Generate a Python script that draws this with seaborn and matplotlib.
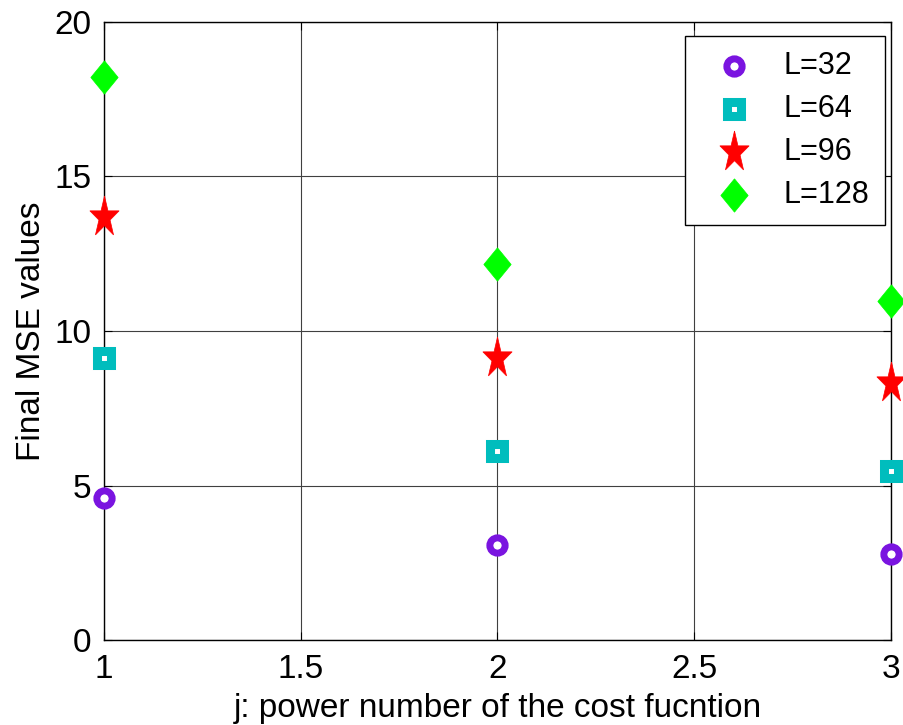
import numpy as np
import pandas as pd
import matplotlib
matplotlib.use("Agg")
import matplotlib.pyplot as plt
import seaborn as sns

# ---- data ----
j_values = [1, 2, 3]
mse_L32 = [4.6, 3.07, 2.78]
mse_L64 = [9.13, 6.12, 5.47]
mse_L96 = [13.7, 9.13, 8.32]
mse_L128 = [18.2, 12.17, 10.97]
series_labels = ["L=32", "L=64", "L=96", "L=128"]
x_ticks = [1, 1.5, 2, 2.5, 3]
x_tick_labels = ["1", "1.5", "2", "2.5", "3"]
y_ticks = [0, 5, 10, 15, 20]

sns.set_theme(style="white")
plt.rcParams['font.family'] = ['Liberation Sans', 'DejaVu Sans']
plt.rcParams['text.color'] = 'black'
plt.rcParams['axes.labelcolor'] = 'black'
plt.rcParams['xtick.color'] = 'black'
plt.rcParams['ytick.color'] = 'black'

# marker shapes (MATLAB-like elongated pentagram and diamond)
ang = np.pi / 2 + np.arange(10) * np.pi / 5
rad = np.where(np.arange(10) % 2 == 0, 1.0, 0.382)
star_verts = list(zip(rad * np.cos(ang), 1.4 * rad * np.sin(ang)))
star_verts.append(star_verts[0])
diamond_verts = [(0, 1), (0.82, 0), (0, -1), (-0.82, 0), (0, 1)]

styles = [
    dict(marker="o", facecolor="white", edgecolor="#7A14E0", linewidth=5.0, ms=11),
    dict(marker="s", facecolor="white", edgecolor="#00BDBD", linewidth=6.5, ms=9.5),
    dict(marker=star_verts, facecolor="#FF0000", edgecolor="#FF0000", linewidth=0.5, ms=31),
    dict(marker=diamond_verts, facecolor="#00FF00", edgecolor="#00FF00", linewidth=0.5, ms=24),
]
all_series = [mse_L32, mse_L64, mse_L96, mse_L128]

fig = plt.figure(figsize=(9.04, 7.25), dpi=100)
ax = fig.add_axes([0.115, 0.117, 0.8706, 0.853])

for vals, lab, st in zip(all_series, series_labels, styles):
    df = pd.DataFrame({"j": j_values, "mse": vals})
    sns.scatterplot(data=df, x="j", y="mse", ax=ax, marker=st["marker"],
                    s=st["ms"] ** 2, facecolor=st["facecolor"],
                    edgecolor=st["edgecolor"], linewidth=st["linewidth"],
                    label=lab, clip_on=False, zorder=5)
for coll in ax.collections:
    coll.set_joinstyle("miter")

ax.set_xlim(1, 3)
ax.set_ylim(0, 20)
ax.set_xticks(x_ticks)
ax.set_xticklabels(x_tick_labels)
ax.set_yticks(y_ticks)
ax.grid(True, color="0.25", linewidth=0.8, linestyle="-")
ax.set_axisbelow(True)
for sp in ax.spines.values():
    sp.set_visible(True)
    sp.set_color("black")
    sp.set_linewidth(1.0)
ax.tick_params(direction="in", length=6, width=0.8, labelsize=24, colors="black",
               top=True, right=True, bottom=True, left=True)
ax.tick_params(axis="x", pad=10)
ax.tick_params(axis="y", pad=9)
ax.set_xlabel("j: power number of the cost fucntion", fontsize=24, labelpad=6, color="black")
ax.set_ylabel("Final MSE values", fontsize=24, labelpad=5, color="black")

leg = ax.legend(loc="upper right", bbox_to_anchor=(0.9924, 0.977), fontsize=22,
                frameon=True, fancybox=False, edgecolor="black", framealpha=1,
                borderpad=0.5, labelspacing=0.42, handlelength=2.2, handletextpad=0.55,
                borderaxespad=0.0, markerscale=1.0)
leg.get_frame().set_linewidth(1.0)
for h in leg.legend_handles:
    try:
        h.set_joinstyle("miter")
    except Exception:
        pass
for t in leg.get_texts():
    t.set_color("black")

fig.savefig("out.png", dpi=100)
